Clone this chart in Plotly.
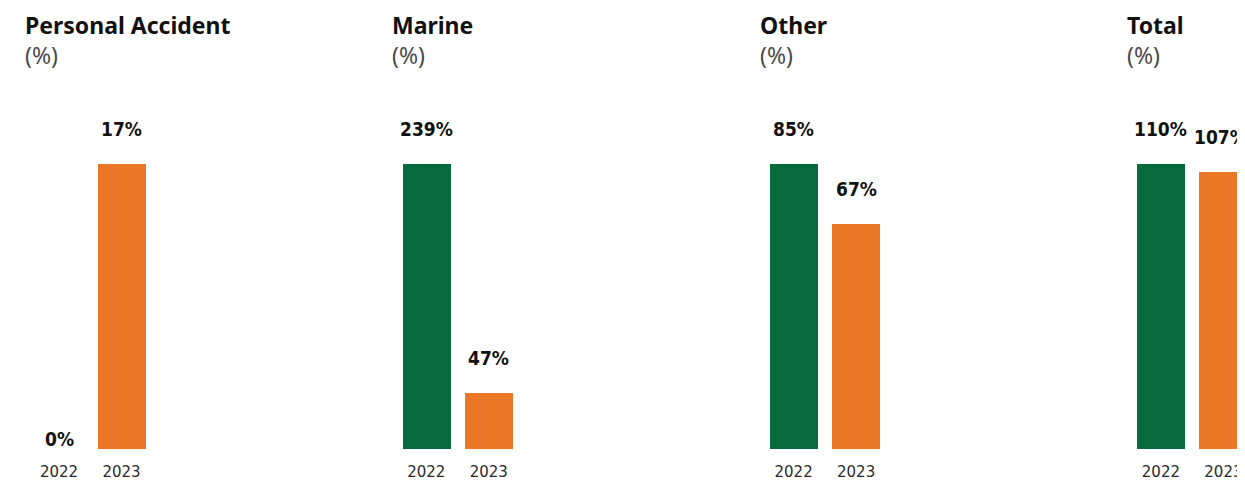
import plotly.graph_objects as go

panels = ["Personal Accident", "Marine", "Other", "Total"]
years = ["2022", "2023"]
v2022 = [0, 239, 85, 110]
v2023 = [17, 47, 67, 107]

GREEN = "#066A3D"
ORANGE = "#EB7828"

# the page body adds an 8px offset; compensate in margins/positions
OFF = 8
W, H = 1245, 482
VISIBLE_W = W - OFF
ML, MR = 0, 0
MT = 164 - OFF
MB = H - (449 - OFF)
PW = W - ML - MR
PH = H - MT - MB
STEP = 62.5  # px per category
BW = 48 / STEP

VAL_FONT = "DejaVu Sans Condensed, Liberation Sans Narrow, Roboto, sans-serif"
VAL_SIZE = 19

fig = go.Figure()
layout = dict(
    width=W, height=H, margin=dict(l=ML, r=MR, t=MT, b=MB),
    paper_bgcolor="white", plot_bgcolor="white", showlegend=False,
    bargap=0,
)
annotations = []

for i, name in enumerate(panels):
    sfx = "" if i == 0 else str(i + 1)
    c0 = 59 - OFF + 367.3 * i
    left = c0 - 0.6 * STEP
    right = c0 + 1.6 * STEP
    r0, r1 = -0.6, 1.6
    if right > PW:
        r1 = 1.6 - (right - PW) / STEP
        right = PW
    vals = [v2022[i], v2023[i]]
    fig.add_trace(go.Bar(
        x=[0, 1], y=vals, width=BW,
        marker=dict(color=[GREEN, ORANGE], line=dict(width=0)),
        xaxis="x" + sfx, yaxis="y" + sfx, hoverinfo="skip",
    ))
    layout["xaxis" + sfx] = dict(
        domain=[left / PW, right / PW], range=[r0, r1], anchor="y" + sfx,
        tickmode="array", tickvals=[0, 1], ticktext=years,
        showgrid=False, zeroline=False, showline=False, ticks="",
        ticklabelstandoff=12,
        tickfont=dict(family="DejaVu Sans", size=15, color="#2a2a2a"),
        fixedrange=True,
    )
    layout["yaxis" + sfx] = dict(
        domain=[0, 1], range=[0, max(vals)], anchor="x" + sfx,
        visible=False, fixedrange=True,
    )
    for j, v in enumerate(vals):
        txt = "%d%%" % v
        # keep the label inside the visible page area
        est_half = 0.5 * VAL_SIZE * 0.62 * len(txt)
        cx = c0 + j * STEP
        xs = min(0, VISIBLE_W - 1 - (cx + est_half))
        annotations.append(dict(
            x=j, y=v, xref="x" + sfx, yref="y" + sfx,
            text="<b>%s</b>" % txt, showarrow=False,
            yanchor="bottom", xanchor="center",
            yshift=22 if v > 0 else -3, xshift=xs,
            font=dict(family=VAL_FONT, size=VAL_SIZE, color="#111111"),
        ))
    annotations.append(dict(
        x=(c0 - 34 - 2) / PW, y=(PH + MT + 1) / PH,
        xref="paper", yref="paper", xanchor="left", yanchor="top", align="left",
        text="<b>%s</b><br><span style='color:#4a4a4a'>(%%)</span>" % name,
        showarrow=False,
        font=dict(family="Noto Sans", size=23, color="#111111"),
    ))

layout["annotations"] = annotations
fig.update_layout(**layout)
fig.write_html("out.html")
